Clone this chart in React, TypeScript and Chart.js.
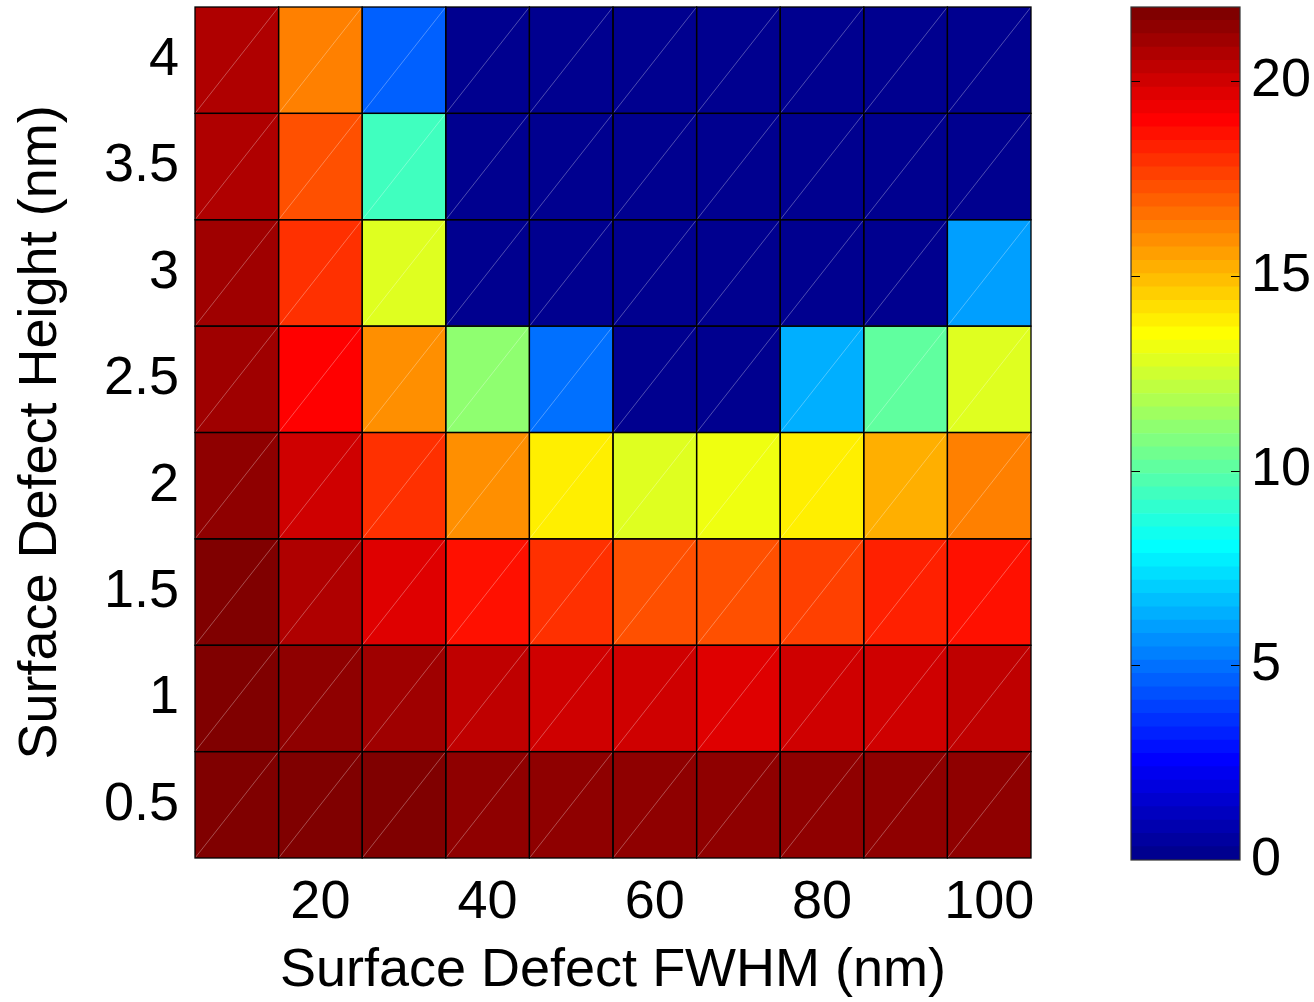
import React, { useEffect, useRef } from "react";
import { Chart, registerables } from "chart.js";

Chart.register(...registerables);

// ---- data ----
const fwhm = [10, 20, 30, 40, 50, 60, 70, 80, 90, 100];
const heights = [0.5, 1, 1.5, 2, 2.5, 3, 3.5, 4];

// values per defect height (row), for FWHM 10..100
const h05 = [21.85, 21.9, 21.9, 21.39, 21.39, 21.39, 21.39, 21.39, 21.39, 21.39];
const h10 = [21.8, 21.39, 21.05, 20.36, 20.02, 20.02, 19.68, 20.02, 20.02, 20.36];
const h15 = [21.8, 20.7, 19.68, 18.65, 17.97, 17.28, 17.28, 17.62, 18.31, 18.65];
const h20 = [21.39, 20.02, 17.97, 15.91, 13.86, 12.83, 13.17, 13.86, 15.23, 16.25];
const h25 = [21.05, 18.99, 15.91, 11.12, 4.96, 0, 0, 6.33, 10.09, 12.83];
const h30 = [21.05, 17.97, 12.83, 0, 0, 0, 0, 0, 0, 5.99];
const h35 = [20.7, 17.28, 9.41, 0, 0, 0, 0, 0, 0, 0];
const h40 = [20.7, 16.25, 4.62, 0, 0, 0, 0, 0, 0, 0];
const rows = [h05, h10, h15, h20, h25, h30, h35, h40];

const xTickValues = [20, 40, 60, 80, 100];
const yTickValues = [0.5, 1, 1.5, 2, 2.5, 3, 3.5, 4];
const cbTickValues = [0, 5, 10, 15, 20];

const CMIN = 0;
const CMAX = 21.9;
const NLEVELS = 64;

const xTitle = "Surface Defect FWHM (nm)";
const yTitle = "Surface Defect Height (nm)";

const FONT = '"Liberation Sans", Arial, Helvetica, sans-serif';
const FS = 54;

// MATLAB jet(64), k = 1..64
function jet(k: number): string {
  let r = 0, g = 0, b = 0;
  if (k >= 25 && k <= 40) r = (k - 24) / 16;
  else if (k >= 41 && k <= 55) r = 1;
  else if (k >= 56) r = (72 - k) / 16;
  if (k >= 9 && k <= 24) g = (k - 8) / 16;
  else if (k >= 25 && k <= 39) g = 1;
  else if (k >= 40 && k <= 55) g = (56 - k) / 16;
  if (k <= 8) b = (k + 8) / 16;
  else if (k <= 23) b = 1;
  else if (k <= 39) b = (40 - k) / 16;
  const c = (v: number) => Math.round(Math.max(0, Math.min(1, v)) * 255);
  return `rgb(${c(r)},${c(g)},${c(b)})`;
}

function colorFor(v: number): string {
  let idx = Math.floor(((v - CMIN) / (CMAX - CMIN)) * NLEVELS);
  idx = Math.max(0, Math.min(NLEVELS - 1, idx));
  return jet(idx + 1);
}

const cellDecor = {
  id: "cellDecor",
  afterDatasetsDraw(chart: any) {
    const ctx = chart.ctx;
    ctx.save();
    chart.data.datasets.forEach((_: any, i: number) => {
      const meta = chart.getDatasetMeta(i);
      meta.data.forEach((bar: any) => {
        const { x, y, base, width } = bar.getProps(["x", "y", "base", "width"], true);
        const left = x - width / 2;
        const right = x + width / 2;
        const top = Math.min(y, base);
        const bottom = Math.max(y, base);
        ctx.strokeStyle = "rgba(255,255,255,0.3)";
        ctx.lineWidth = 1;
        ctx.beginPath();
        ctx.moveTo(left, bottom);
        ctx.lineTo(right, top);
        ctx.stroke();
        ctx.strokeStyle = "#000";
        ctx.lineWidth = 1.3;
        ctx.strokeRect(left, top, right - left, bottom - top);
      });
    });
    ctx.restore();
  },
};

const cbDecor = {
  id: "cbDecor",
  afterDatasetsDraw(chart: any) {
    const ctx = chart.ctx;
    const a = chart.chartArea;
    const ys = chart.scales.y;
    ctx.save();
    ctx.strokeStyle = "#000";
    ctx.lineWidth = 1;
    cbTickValues.forEach((v) => {
      if (v === 0) return;
      const py = Math.round(ys.getPixelForValue(v)) + 0.5;
      ctx.beginPath();
      ctx.moveTo(a.left, py);
      ctx.lineTo(a.left + 9, py);
      ctx.moveTo(a.right - 9, py);
      ctx.lineTo(a.right, py);
      ctx.stroke();
    });
    ctx.strokeStyle = "#333";
    ctx.lineWidth = 1.2;
    ctx.strokeRect(a.left, a.top, a.right - a.left, a.bottom - a.top);
    ctx.restore();
  },
};

export default function App() {
  const mainRef = useRef<HTMLCanvasElement>(null);
  const cbRef = useRef<HTMLCanvasElement>(null);

  useEffect(() => {
    Chart.defaults.font.family = FONT;
    Chart.defaults.color = "#000";

    const main = new Chart(mainRef.current as HTMLCanvasElement, {
      type: "bar",
      data: {
        datasets: heights.map((h, r) => ({
          label: `${h}`,
          data: fwhm.map((x) => ({ x, y: [h - 0.25, h + 0.25] })),
          backgroundColor: rows[r].map(colorFor),
          borderWidth: 0,
          grouped: false,
          barPercentage: 1,
          categoryPercentage: 1,
        })) as any,
      },
      options: {
        responsive: false,
        maintainAspectRatio: false,
        animation: false,
        devicePixelRatio: 1,
        layout: { padding: { left: 0, top: 7, right: 69, bottom: 0 } },
        plugins: { legend: { display: false }, tooltip: { enabled: false } },
        scales: {
          x: {
            type: "linear",
            min: 5,
            max: 105,
            offset: false,
            grid: { display: false, drawTicks: false },
            border: { display: false },
            afterBuildTicks: (s: any) => {
              s.ticks = xTickValues.map((v) => ({ value: v }));
            },
            afterFit: (s: any) => {
              s.height = 144;
              s.paddingLeft = 0;
              s.paddingRight = 0;
            },
            ticks: {
              autoSkip: false,
              maxRotation: 0,
              padding: 13,
              color: "#000",
              font: { size: FS, family: FONT },
              callback: (v: any) => String(v),
            },
            title: {
              display: true,
              text: xTitle,
              color: "#000",
              font: { size: FS, family: FONT },
              padding: { top: 0, bottom: -2 },
            },
          },
          y: {
            type: "linear",
            min: 0.25,
            max: 4.25,
            grid: { display: false, drawTicks: false },
            border: { display: false },
            afterBuildTicks: (s: any) => {
              s.ticks = yTickValues.map((v) => ({ value: v }));
            },
            afterFit: (s: any) => {
              s.width = 195;
              s.paddingTop = 0;
              s.paddingBottom = 0;
            },
            ticks: {
              autoSkip: false,
              padding: 16,
              color: "#000",
              font: { size: FS, family: FONT },
              callback: (v: any) => String(v),
            },
            title: {
              display: true,
              text: yTitle,
              color: "#000",
              font: { size: FS, family: FONT },
              padding: { top: 9, bottom: 0 },
            },
          },
        },
      },
      plugins: [cellDecor],
    });

    const bands = Array.from({ length: NLEVELS }, (_, i) => [
      CMIN + (i * (CMAX - CMIN)) / NLEVELS,
      CMIN + ((i + 1) * (CMAX - CMIN)) / NLEVELS,
    ]);

    const cb = new Chart(cbRef.current as HTMLCanvasElement, {
      type: "bar",
      data: {
        labels: ["colorbar"],
        datasets: bands.map((b, i) => ({
          label: `level ${i + 1}`,
          data: [b],
          backgroundColor: jet(i + 1),
          borderWidth: 0,
          grouped: false,
          barPercentage: 1,
          categoryPercentage: 1,
        })) as any,
      },
      options: {
        responsive: false,
        maintainAspectRatio: false,
        animation: false,
        devicePixelRatio: 1,
        layout: { padding: { left: 31, top: 7, right: 0, bottom: 142 } },
        plugins: { legend: { display: false }, tooltip: { enabled: false } },
        scales: {
          x: { display: false },
          y: {
            type: "linear",
            position: "right",
            min: CMIN,
            max: CMAX,
            grid: { display: false, drawTicks: false },
            border: { display: false },
            afterBuildTicks: (s: any) => {
              s.ticks = cbTickValues.map((v) => ({ value: v }));
            },
            afterFit: (s: any) => {
              s.width = 74;
              s.paddingTop = 0;
              s.paddingBottom = 0;
            },
            ticks: {
              autoSkip: false,
              padding: 11,
              color: "#000",
              font: { size: FS, family: FONT },
              callback: (v: any) => String(v),
            },
          },
        },
      },
      plugins: [cbDecor],
    });

    return () => {
      main.destroy();
      cb.destroy();
    };
  }, []);

  return (
    <div style={{ position: "absolute", left: 0, top: 0, width: 1314, height: 1002, background: "#fff" }}>
      <canvas
        ref={mainRef}
        width={1100}
        height={1002}
        style={{ position: "absolute", left: 0, top: 0, width: 1100, height: 1002, display: "block" }}
      />
      <canvas
        ref={cbRef}
        width={214}
        height={1002}
        style={{ position: "absolute", left: 1100, top: 0, width: 214, height: 1002, display: "block" }}
      />
    </div>
  );
}
